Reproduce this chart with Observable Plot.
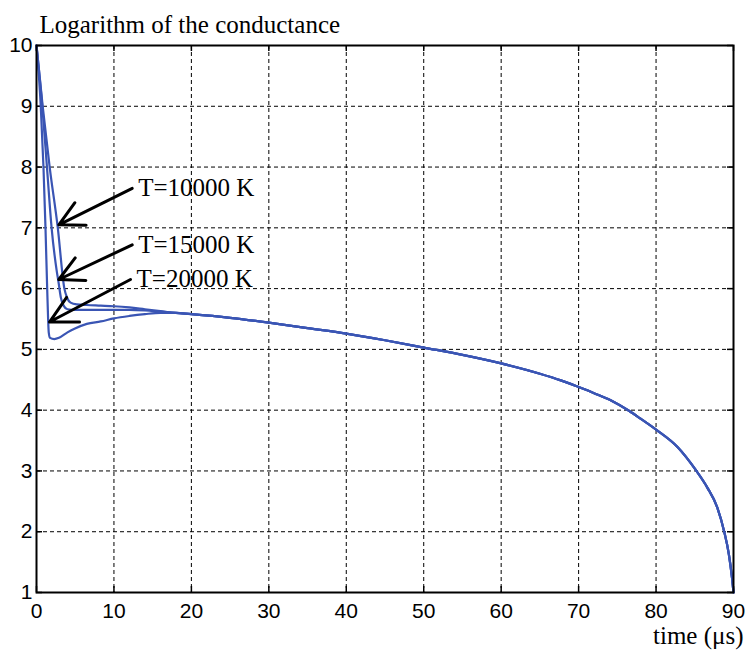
<!DOCTYPE html>
<html>
<head>
<meta charset="utf-8">
<script src="https://cdn.jsdelivr.net/npm/d3@7"></script>
<script src="https://cdn.jsdelivr.net/npm/@observablehq/plot@0.6"></script>
<style>
  html, body { margin: 0; padding: 0; background: #fff; }
</style>
</head>
<body>
<div id="chart"></div>
<script>
// ---- Data ----
const xTicks = [0, 10, 20, 30, 40, 50, 60, 70, 80, 90];
const yTicks = [1, 2, 3, 4, 5, 6, 7, 8, 9, 10];

const seriesNames = ["T=10000 K", "T=15000 K", "T=20000 K"];

// early part of each curve (time in µs, log conductance)
const time10000 = [0, 0.8, 1.7, 2.75, 3.6, 3.95, 4.4, 5.2, 6.5, 8.3, 10, 12, 14, 16];
const logG10000 = [10, 9, 8, 7, 6, 5.85, 5.77, 5.74, 5.73, 5.72, 5.71, 5.69, 5.66, 5.63];

const time15000 = [0, 0.75, 1.35, 1.95, 2.6, 2.85, 3.15, 3.5, 4.0, 5.0, 8.3, 10, 12, 14, 16];
const logG15000 = [10, 9, 8, 7, 6.3, 6.1, 5.85, 5.72, 5.66, 5.65, 5.65, 5.65, 5.65, 5.64, 5.62];

const time20000 = [0, 0.55, 0.9, 1.16, 1.38, 1.5, 1.58, 1.75, 2.3, 2.9, 4.0, 4.9, 6.5, 8.3, 10, 12, 14, 16];
const logG20000 = [10, 9, 8, 7, 6, 5.5, 5.28, 5.19, 5.17, 5.19, 5.28, 5.34, 5.42, 5.46, 5.51, 5.55, 5.58, 5.6];

// common tail shared by the three curves
const tailTime = [18, 20, 25, 30, 35, 40, 45, 50, 55, 60, 65, 67.7, 70, 72, 74.2, 76.5, 78, 80, 82.8, 85.1, 86.6, 87.9, 88.8, 89.4, 89.8, 90];
const tailLogG = [5.6, 5.58, 5.52, 5.44, 5.35, 5.26, 5.15, 5.03, 4.91, 4.77, 4.6, 4.49, 4.38, 4.28, 4.16, 3.99, 3.86, 3.68, 3.39, 3.02, 2.73, 2.40, 2.0, 1.63, 1.25, 1.0];

// annotation arrows (start near label, tip on curve)
const arrowStartT = [12.36, 12.36, 12.14];
const arrowStartV = [7.65, 6.72, 6.15];
const arrowTipT = [2.88, 2.88, 1.68];
const arrowTipV = [7.05, 6.15, 5.45];

// ---- Build tables ----
function build(name, ts, vs) {
  const rows = ts.map((t, i) => ({series: name, t, v: vs[i]}));
  tailTime.forEach((t, i) => rows.push({series: name, t, v: tailLogG[i]}));
  return rows;
}
const curves = [
  ...build(seriesNames[0], time10000, logG10000),
  ...build(seriesNames[1], time15000, logG15000),
  ...build(seriesNames[2], time20000, logG20000)
];
const arrows = seriesNames.map((name, i) => ({
  name, x1: arrowStartT[i], y1: arrowStartV[i], x2: arrowTipT[i], y2: arrowTipV[i]
}));

const serif = "'Liberation Serif', 'Times New Roman', serif";
const frameH = 651 - 45 - 59;
const frameW = 749 - 36 - 16;

const chart = Plot.plot({
  width: 749,
  height: 651,
  marginLeft: 36,
  marginRight: 16,
  marginTop: 45,
  marginBottom: 59,
  style: {fontFamily: "'Liberation Sans', Arial, sans-serif", fontSize: "21px", color: "black", background: "white"},
  x: {domain: [0, 90], ticks: xTicks, label: null},
  y: {domain: [1, 10], ticks: yTicks, label: null},
  marks: [
    Plot.gridX(xTicks, {stroke: "black", strokeOpacity: 1, strokeWidth: 1, strokeDasharray: "4,3"}),
    Plot.gridY(yTicks, {stroke: "black", strokeOpacity: 1, strokeWidth: 1, strokeDasharray: "4,3"}),
    // inward ticks on all four sides
    Plot.tickX(xTicks, {x: d => d, stroke: "black", strokeWidth: 1.5, insetTop: frameH - 6}),
    Plot.tickX(xTicks, {x: d => d, stroke: "black", strokeWidth: 1.5, insetBottom: frameH - 6}),
    Plot.tickY(yTicks, {y: d => d, stroke: "black", strokeWidth: 1.5, insetRight: frameW - 6}),
    Plot.tickY(yTicks, {y: d => d, stroke: "black", strokeWidth: 1.5, insetLeft: frameW - 6}),
    Plot.axisX(xTicks, {tickSize: 0, tickPadding: 11, fill: "black", tickFormat: d => String(d)}),
    Plot.axisY(yTicks, {tickSize: 0, tickPadding: 4, fill: "black", tickFormat: d => String(d)}),
    Plot.line(curves, {x: "t", y: "v", z: "series", stroke: "#3a55b4", strokeWidth: 2.2, curve: "monotone-x"}),
    Plot.frame({stroke: "black", strokeWidth: 2}),
    Plot.arrow(arrows, {x1: "x1", y1: "y1", x2: "x2", y2: "y2", stroke: "black", strokeWidth: 3, headLength: 15, headAngle: 55}),
    Plot.text(arrows, {x: "x1", y: "y1", text: "name", textAnchor: "start", dx: 6, fontFamily: serif, fontSize: 25, fill: "black"}),
    Plot.text(["Logarithm of the conductance"], {frameAnchor: "top-left", text: d => d, textAnchor: "start", lineAnchor: "bottom", dx: 3, dy: -13, fontFamily: serif, fontSize: 25, fill: "black"}),
    Plot.text(["time (\u03bcs)"], {frameAnchor: "bottom-right", text: d => d, textAnchor: "end", lineAnchor: "bottom", dx: 10, dy: 51, fontFamily: serif, fontSize: 25, fill: "black"})
  ]
});
document.getElementById("chart").appendChild(chart);
</script>
</body>
</html>
